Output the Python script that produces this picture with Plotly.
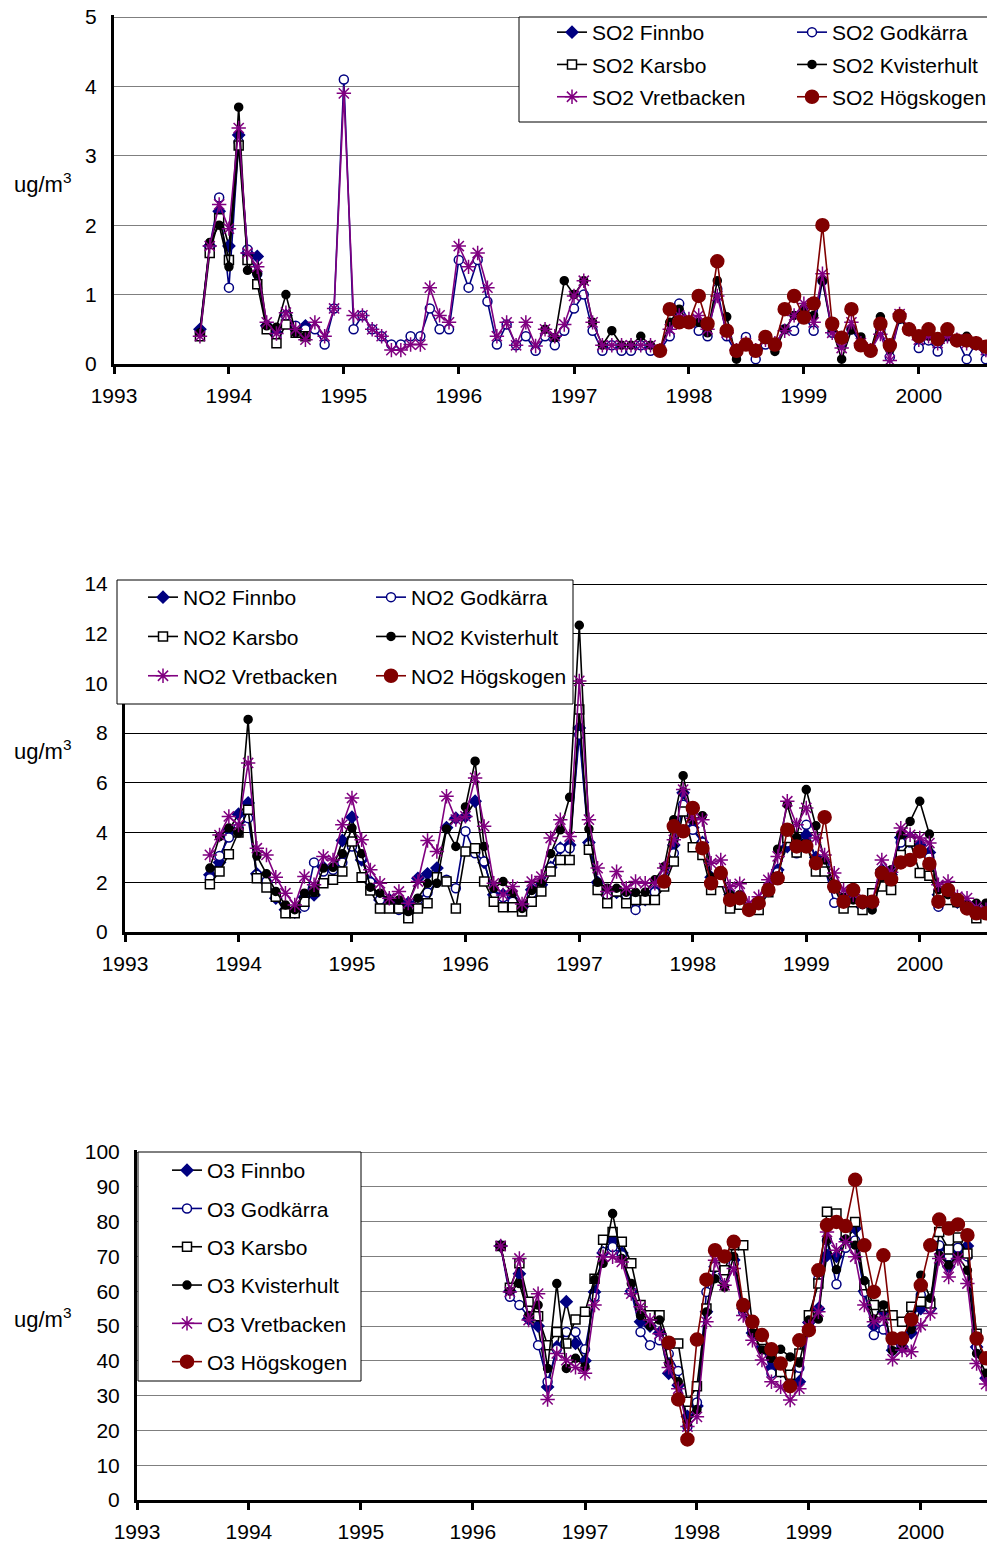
"""Monthly SO2, NO2 and O3 means at six stations, 1993-2000."""

import pandas as pd
import plotly.graph_objects as go

FONT = "Arial, Liberation Sans, sans-serif"
PAGE_W, PAGE_H = 995, 1544
BODY = 8                      # default page margin round the plot div
W, H = PAGE_W - BODY, PAGE_H - BODY
HEADROOM = 2                  # px above the top tick, so its gridline is kept
TXT = 21                      # tick and legend font size

# ---- data (monthly means, ug/m3) -------------------------------------------
START_ALL = "1993-10-01"   # first month of the long series
START_HOG = "1997-10-01"   # Högskogen starts here
START_O3 = "1996-04-01"    # ozone series start here

so2_finnbo = [0.5, 1.7, 2.2, 1.7, 3.3, 1.6, 1.55, 0.55, 0.45, 0.7, 0.5, 0.55]
so2_karsbo = [0.4, 1.6, 2.1, 1.5, 3.15, 1.5, 1.15, 0.5, 0.3, 0.57, 0.45, 0.4]
so2_godkarra = [
    0.45, 1.7, 2.4, 1.1, 3.2, 1.65, 1.3, 0.55, 0.4, 0.7, 0.55, 0.5,
    0.5, 0.28, 0.8, 4.1, 0.5, 0.7, 0.5, 0.4, 0.28, 0.28, 0.4, 0.4,
    0.8, 0.5, 0.5, 1.5, 1.1, 1.5, 0.9, 0.28, 0.57, 0.27, 0.4, 0.19,
    0.4, 0.27, 0.48, 0.8, 1.0, 0.48, 0.19, 0.27, 0.19, 0.19, 0.27, 0.19,
    0.2, 0.4, 0.87, 0.62, 0.48, 0.4, 1.08, 0.4, 0.15, 0.39, 0.07, 0.28,
    0.28, 0.5, 0.48, 0.7, 0.48, 1.2, 0.45, 0.3, 0.5, 0.3, 0.2, 0.5,
    0.1, 0.65, 0.5, 0.23, 0.34, 0.18, 0.4, 0.35, 0.07, 0.3, 0.07, 0.25,
]
so2_kvisterhult = (
    [0.45, 1.75, 2.0, 1.4, 3.7, 1.35, 1.3, 0.55, 0.53, 1.0, 0.45, 0.4]
    + [None] * 24
    + [0.5, 0.38, 1.2, 1.0, 1.2, 0.6, 0.27, 0.48, 0.27, 0.27, 0.4, 0.27,
       0.2, 0.6, 0.79, 0.6, 0.6, 0.45, 1.2, 0.68, 0.07, 0.28, 0.19, 0.35,
       0.18, 0.5, 0.7, 0.8, 0.7, 1.2, 0.5, 0.07, 0.49, 0.39, 0.2, 0.68,
       0.2, 0.65, 0.5, 0.4, 0.4, 0.35, 0.4, 0.35, 0.4, 0.3, 0.25, 0.25]
)
so2_vretbacken = [
    0.4, 1.7, 2.3, 1.95, 3.4, 1.6, 1.4, 0.6, 0.44, 0.74, 0.5, 0.35,
    0.6, 0.4, 0.8, 3.9, 0.7, 0.7, 0.5, 0.4, 0.2, 0.2, 0.28, 0.28,
    1.1, 0.7, 0.6, 1.7, 1.4, 1.6, 1.1, 0.4, 0.6, 0.27, 0.6, 0.26,
    0.5, 0.4, 0.57, 0.98, 1.2, 0.6, 0.27, 0.27, 0.27, 0.27, 0.27, 0.27,
    0.2, 0.5, 0.7, 0.65, 0.7, 0.5, 0.98, 0.45, 0.2, 0.3, 0.2, 0.35,
    0.3, 0.48, 0.7, 0.87, 0.6, 1.3, 0.45, 0.23, 0.6, 0.3, 0.2, 0.43,
    0.05, 0.72, 0.5, 0.35, 0.4, 0.3, 0.4, 0.35, 0.3, 0.3, 0.2, 0.25,
]
so2_hogskogen = [
    0.19, 0.79, 0.6, 0.6, 0.98, 0.58, 1.48, 0.48, 0.19, 0.28, 0.19, 0.39,
    0.28, 0.79, 0.98, 0.67, 0.87, 2.0, 0.58, 0.38, 0.79, 0.27, 0.19, 0.58,
    0.27, 0.69, 0.5, 0.4, 0.5, 0.36, 0.5, 0.34, 0.34, 0.3, 0.25, 0.27,
]

no2_finnbo = [
    2.3, 2.8, 4.1, 4.74, 5.19, 2.34, 2.0, 1.36, 0.9, 0.8, 1.4, 1.49,
    2.6, 2.53, 3.68, 4.62, 2.9, 2.03, 1.29, 1.3, 1.2, 1.16, 2.16, 2.34,
    2.57, 4.2, 4.58, 4.65, 5.26, 2.8, 1.5, 1.5, 1.3, 1.0, 1.7, 1.9,
    2.6, 3.37, 3.5, 8.21, 3.6, 2.0, 1.5, 1.6, 1.5, 1.3, 1.3, 1.63,
    2.1, 3.5, 5.6, 4.2, 3.6, 2.2, 2.3, 1.5, 1.2, 0.9, 1.1, 1.7,
    2.5, 3.44, 3.4, 3.9, 3.0, 2.8, 1.8, 1.2, 1.3, 1.0, 1.1, 2.5,
    2.3, 3.8, 3.8, 3.5, 3.2, 1.5, 1.5, 1.2, 1.1, 0.9, 0.9, 1.2,
]
no2_godkarra = [
    2.16, 3.06, 3.8, 4.2, 4.58, 2.3, 2.03, 1.45, 0.9, 0.8, 1.02, 2.8,
    2.43, 2.5, 2.8, 3.44, 3.0, 2.0, 1.3, 1.3, 0.89, 0.8, 1.3, 1.59,
    2.0, 2.1, 1.76, 4.05, 3.17, 2.84, 1.42, 1.4, 1.22, 0.9, 1.56, 1.9,
    2.6, 3.37, 3.37, 7.94, 3.5, 1.96, 1.5, 1.6, 1.49, 0.89, 1.3, 1.6,
    2.0, 3.17, 5.12, 4.11, 3.6, 2.0, 2.2, 1.3, 1.2, 0.9, 1.1, 1.7,
    2.4, 3.6, 3.17, 4.31, 2.8, 2.6, 1.18, 1.2, 1.3, 1.0, 1.1, 2.3,
    2.3, 3.6, 3.6, 3.3, 3.0, 1.02, 1.4, 1.2, 1.1, 0.9, 0.9, 1.2,
]
no2_karsbo = [
    1.92, 2.43, 3.13, 4.0, 4.92, 2.16, 1.79, 1.42, 0.75, 0.75, 1.22, 1.63,
    1.96, 2.1, 2.43, 3.64, 2.2, 1.67, 0.95, 0.95, 0.95, 0.55, 0.95, 1.16,
    2.2, 2.03, 0.95, 3.24, 3.37, 2.03, 1.22, 1.0, 1.0, 0.82, 1.22, 1.63,
    2.43, 2.9, 2.9, 8.95, 3.31, 1.69, 1.16, 1.63, 1.16, 1.29, 1.29, 1.29,
    1.83, 2.84, 4.85, 3.41, 3.1, 1.69, 2.0, 0.95, 1.1, 0.9, 0.89, 1.6,
    2.2, 3.78, 3.2, 3.5, 2.43, 2.43, 1.8, 0.95, 1.2, 0.89, 1.56, 1.83,
    1.69, 3.1, 3.64, 2.37, 2.26, 1.5, 1.29, 1.2, 1.0, 0.55, 0.8, 1.2,
]
no2_kvisterhult = [
    2.57, 3.84, 4.18, 3.98, 8.55, 3.06, 2.34, 1.63, 1.09, 0.9, 1.56, 1.6,
    2.57, 2.6, 3.15, 4.18, 3.15, 1.8, 1.56, 1.3, 1.29, 0.82, 1.36, 1.96,
    1.96, 4.14, 3.44, 5.03, 6.87, 3.44, 1.76, 2.03, 1.56, 0.95, 1.67, 2.0,
    3.15, 4.11, 5.42, 12.34, 4.14, 2.0, 1.76, 1.76, 1.6, 1.59, 1.6, 2.1,
    2.63, 4.52, 6.29, 4.5, 4.68, 2.2, 2.4, 1.5, 1.5, 1.0, 1.1, 1.8,
    3.33, 5.12, 3.8, 5.73, 4.27, 2.9, 1.9, 1.4, 1.29, 1.1, 0.89, 2.2,
    2.5, 3.91, 4.45, 5.26, 3.94, 1.7, 1.5, 1.3, 1.1, 1.16, 1.16, 1.63,
]
no2_vretbacken = [
    3.1, 3.9, 4.65, 4.3, 6.8, 3.37, 3.1, 2.2, 1.56, 1.09, 2.23, 1.9,
    3.04, 2.9, 4.31, 5.39, 3.71, 2.5, 1.96, 1.36, 1.63, 1.16, 2.03, 3.68,
    3.24, 5.46, 4.52, 4.65, 6.2, 4.25, 1.96, 1.49, 1.83, 1.13, 2.03, 2.23,
    3.78, 4.52, 3.84, 10.1, 4.52, 2.57, 1.63, 2.43, 1.76, 2.03, 1.96, 1.96,
    2.57, 3.71, 5.73, 4.58, 4.52, 2.77, 2.9, 1.83, 1.94, 1.16, 1.42, 2.1,
    3.04, 5.26, 4.31, 4.99, 3.78, 3.1, 2.37, 1.69, 1.5, 1.2, 1.2, 2.9,
    2.4, 4.18, 3.91, 3.78, 3.58, 1.9, 2.03, 1.42, 1.36, 1.0, 0.9, 1.2,
]
no2_hogskogen = [
    2.03, 4.25, 4.05, 4.99, 3.37, 1.96, 2.37, 1.29, 1.36, 0.89, 1.16, 1.69,
    2.16, 4.11, 3.44, 3.44, 2.77, 4.62, 1.83, 1.22, 1.69, 1.22, 1.22, 2.37,
    2.12, 2.8, 2.9, 3.24, 2.74, 1.22, 1.69, 1.29, 0.95, 0.75, 0.75, 1.22,
]

o3_finnbo = [
    73, 60, 65, 52, 50, 32.5, 44, 57, 45, 40, 59.8, 71,
    74.6, 71, 60, 51.2, 50, 48, 36.4, 33, 24, 27, 54.1, 67,
    65, 69, 55, 48, 44, 38, 37, 33, 34, 51, 55, 70.3,
    70, 75, 78, 60, 50, 54, 43, 44, 48, 55, 55, 72.5,
    67, 71, 73, 44, 35, 36,
]
o3_godkarra = [
    73, 58.4, 56, 52.6, 44.5, 34, 43.3, 48.3, 48.3, 43.3, 58.4, 71.3,
    72.7, 70.3, 59.8, 48.3, 44.5, 45.9, 42, 37.1, 21.1, 28, 59.8, 67,
    64, 68, 54, 49, 45, 36.4, 37, 35, 38, 51, 63.6, 74.6,
    62, 72.5, 74.6, 59.8, 47.4, 49, 44, 44, 49.8, 58.9, 55, 73.2,
    70, 72.5, 70, 44, 38, 38,
]
o3_karsbo = [
    73, 61, 68, 57, 52.8, 44.5, 48.3, 45, 51.9, 54.1, 63.6, 74.8,
    77, 74.2, 68, 56, 53.1, 53.1, 45, 45, 28.2, 32.7, 55, 67,
    66, 73.2, 73.2, 50.2, 46, 42, 36.8, 36, 42.1, 53.1, 62.2, 82.8,
    82.3, 76, 79.9, 61.7, 56, 55.5, 53.1, 51.2, 55.5, 57, 56.5, 77,
    72, 75.4, 70.8, 47.8, 38, 42.6,
]
o3_kvisterhult = [
    73, 60, 62.2, 53, 56, 37.8, 62.2, 37.8, 40.7, 38.3, 63.3, 68,
    82.3, 69.4, 62.2, 53, 50, 51.7, 39.2, 34, 22, 26, 54, 63.6,
    61.2, 70, 55, 48, 43.1, 40.7, 43.3, 41.1, 39.4, 51.7, 52, 74.8,
    66.2, 75, 73.2, 63, 52, 56, 42.9, 44, 49, 64.6, 58, 70.3,
    67.5, 70, 66, 42.1, 36.4, 37,
]
o3_vretbacken = [
    73, 59.8, 69.4, 51.7, 59.3, 28.9, 42.1, 40.2, 38.1, 36.4, 56, 69.9,
    69.9, 68.4, 59.3, 55.5, 51.7, 47.8, 38.1, 32, 21.1, 23.9, 51.2, 68.9,
    61.7, 66.5, 53, 45.9, 40.2, 34, 32.5, 28.7, 32, 49.8, 54.1, 77,
    71.8, 74.2, 69.9, 56, 51.2, 52.2, 40.4, 43.1, 42.6, 50.2, 53.6, 69.4,
    64.1, 69.4, 62.2, 39.2, 33.3, 35,
]
o3_hogskogen = [
    45.2, 28.9, 17.4, 46.1, 63.3, 71.8, 70, 74.2, 56, 51.2, 47.4, 43.3,
    39.2, 32.7, 45.9, 48.8, 66, 79, 79.9, 78.7, 92, 73.2, 59.8, 70.3,
    46.4, 46.4, 51.9, 61.7, 73.2, 80.6, 78, 79.2, 76.1, 46.4, 40.7, 49.3,
]

YEAR_TICKS = ["1993", "1994", "1995", "1996", "1997", "1998", "1999", "2000"]

# ---- styling ---------------------------------------------------------------
STYLE = {
    "Finnbo": dict(line="#000000", symbol="diamond", size=9, fill="#000080", edge="#000080"),
    "Godkärra": dict(line="#000080", symbol="circle", size=9, fill="#ffffff", edge="#000080"),
    "Karsbo": dict(line="#000000", symbol="square", size=9, fill="#ffffff", edge="#000000"),
    "Kvisterhult": dict(line="#000000", symbol="circle", size=8, fill="#000000", edge="#000000"),
    "Vretbacken": dict(line="#800080", symbol="asterisk-open", size=12, fill="#800080", edge="#800080"),
    "Högskogen": dict(line="#800000", symbol="circle", size=13, fill="#800000", edge="#800000"),
}

# all positions below are page pixels, measured on the reference picture
# (top = pixel row of the highest tick); legends: (id, stations, x px, y px)
PANELS = [
    dict(gas="SO2", ax="", left=114, top=17, bottom=364, ymax=5, dtick=1, grid="#7f7f7f",
         series=[("Finnbo", START_ALL, so2_finnbo), ("Godkärra", START_ALL, so2_godkarra),
                 ("Karsbo", START_ALL, so2_karsbo), ("Kvisterhult", START_ALL, so2_kvisterhult),
                 ("Vretbacken", START_ALL, so2_vretbacken), ("Högskogen", START_HOG, so2_hogskogen)],
         legends=[("legend", ["Finnbo", "Karsbo", "Vretbacken"], 552, 12),
                  ("legend2", ["Godkärra", "Kvisterhult", "Högskogen"], 792, 12)],
         gap=2, box=(519, 17, 1000, 122), unit_y=183),
    dict(gas="NO2", ax="2", left=125, top=584, bottom=932, ymax=14, dtick=2, grid="#000000",
         series=[("Finnbo", START_ALL, no2_finnbo), ("Godkärra", START_ALL, no2_godkarra),
                 ("Karsbo", START_ALL, no2_karsbo), ("Kvisterhult", START_ALL, no2_kvisterhult),
                 ("Vretbacken", START_ALL, no2_vretbacken), ("Högskogen", START_HOG, no2_hogskogen)],
         legends=[("legend3", ["Finnbo", "Karsbo", "Vretbacken"], 143, 577),
                  ("legend4", ["Godkärra", "Kvisterhult", "Högskogen"], 371, 577)],
         gap=9, box=(117, 580, 573, 704), unit_y=750),
    dict(gas="O3", ax="3", left=137, top=1152, bottom=1500, ymax=100, dtick=10, grid="#7f7f7f",
         series=[("Finnbo", START_O3, o3_finnbo), ("Godkärra", START_O3, o3_godkarra),
                 ("Karsbo", START_O3, o3_karsbo), ("Kvisterhult", START_O3, o3_kvisterhult),
                 ("Vretbacken", START_O3, o3_vretbacken), ("Högskogen", START_HOG, o3_hogskogen)],
         legends=[("legend5", ["Finnbo", "Godkärra", "Karsbo", "Kvisterhult", "Vretbacken", "Högskogen"],
                   167, 1150)],
         gap=8, box=(138, 1152, 361, 1381), unit_y=1318),
]


def px_x(x):
    return (x - BODY) / W


def px_y(y):
    return 1 - (y - BODY) / H


fig = go.Figure()
layout = dict(shapes=[], annotations=[])

for panel in PANELS:
    legend_of = {name: leg for leg, names, *_ in panel["legends"] for name in names}
    for name, start, values in panel["series"]:
        st = STYLE[name]
        x = pd.date_range(start, periods=len(values), freq="MS")
        fig.add_trace(go.Scatter(
            x=x, y=values,
            mode="lines+markers",
            name=f"{panel['gas']} {name}",
            xaxis="x" + panel["ax"], yaxis="y" + panel["ax"],
            legend=legend_of[name],
            legendgroup=f"{panel['gas']}-{name}",
            connectgaps=False,
            line=dict(color=st["line"], width=1.6),
            marker=dict(symbol=st["symbol"], size=st["size"], color=st["fill"],
                        line=dict(color=st["edge"], width=1.5)),
        ))

    xname, yname = "xaxis" + panel["ax"], "yaxis" + panel["ax"]
    layout[xname] = dict(
        domain=[px_x(panel["left"]), 1],
        anchor="y" + panel["ax"],
        type="date",
        range=["1993-01-01", "2000-08-30"],
        tickvals=[f"{y}-01-01" for y in YEAR_TICKS],
        ticktext=YEAR_TICKS,
        ticks="outside", ticklen=7, tickwidth=3, tickcolor="#000000",
        showline=True, linewidth=3, linecolor="#000000",
        showgrid=False, zeroline=False, automargin=False,
        tickfont=dict(family=FONT, size=TXT, color="#000000"),
        ticklabelstandoff=4,
    )
    ymax = panel["ymax"]
    span_px = panel["bottom"] - panel["top"]
    layout[yname] = dict(
        domain=[px_y(panel["bottom"]), px_y(panel["top"] - HEADROOM)],
        anchor="x" + panel["ax"],
        range=[0, ymax * (1 + HEADROOM / span_px)],
        tickvals=list(range(0, ymax + 1, panel["dtick"])),
        showgrid=True, gridcolor=panel["grid"], gridwidth=1,
        showline=True, linewidth=3, linecolor="#000000",
        ticks="", zeroline=False, automargin=False,
        ticklabeloverflow="allow",
        tickfont=dict(family=FONT, size=TXT, color="#000000"),
        ticklabelstandoff=10,
    )

    for leg, names, lx, ly in panel["legends"]:
        layout[leg] = dict(
            x=px_x(lx), y=px_y(ly), xanchor="left", yanchor="top",
            xref="paper", yref="paper",
            bgcolor="rgba(255,255,255,0)", borderwidth=0,
            font=dict(family=FONT, size=TXT, color="#000000"),
            traceorder="grouped", tracegroupgap=panel["gap"],
            itemclick=False, itemdoubleclick=False,
        )

    bx0, by0, bx1, by1 = panel["box"]
    layout["shapes"].append(dict(
        type="rect", xref="paper", yref="paper", layer="above",
        x0=px_x(bx0), x1=px_x(bx1), y0=px_y(by1), y1=px_y(by0),
        fillcolor="#ffffff", line=dict(color="#000000", width=1),
    ))
    layout["annotations"].append(dict(
        text="ug/m<sup>3</sup>", xref="paper", yref="paper",
        x=px_x(12), y=px_y(panel["unit_y"]), xanchor="left", yanchor="middle",
        showarrow=False, font=dict(family=FONT, size=22, color="#000000"),
    ))

fig.update_layout(
    width=W, height=H,
    margin=dict(l=0, r=0, t=0, b=0, autoexpand=False),
    paper_bgcolor="#ffffff", plot_bgcolor="#ffffff",
    font=dict(family=FONT, color="#000000"),
    showlegend=True,
    hovermode="closest",
    **layout,
)

fig.write_html("out.html")
